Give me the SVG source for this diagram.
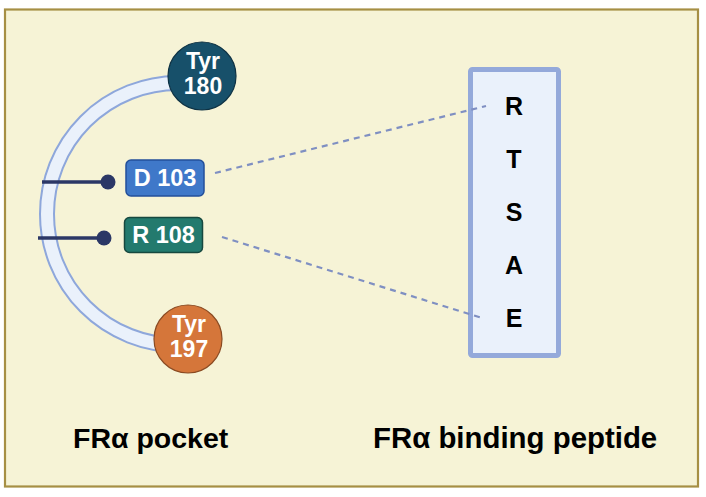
<svg xmlns="http://www.w3.org/2000/svg" width="706" height="497" viewBox="0 0 706 497">
<style>
  text { font-family: "Liberation Sans", Arial, sans-serif; font-weight: bold; }
  .wt { fill: #ffffff; text-anchor: middle; }
  .pep { fill: #000000; text-anchor: middle; font-size: 25px; }
  .lbl { fill: #000000; }
  .dash { stroke: #7f8fc2; stroke-width: 2.2; stroke-dasharray: 6 5; fill: none; }
  .pin { stroke: #2b3766; stroke-width: 3.5; }
  .pindot { fill: #2b3766; }
</style>
<rect x="0" y="0" width="706" height="497" fill="#ffffff"/>
<rect id="frame" x="5" y="9.5" width="693" height="477" fill="#f6f3d6" stroke="#a68f44" stroke-width="2.2"/>

<g id="pocket-arc">
  <path d="M178 83 A131 131 0 0 0 178 345" fill="none" stroke="#8ea7db" stroke-width="16"/>
  <path d="M178 83 A131 131 0 0 0 178 345" fill="none" stroke="#eaf1fb" stroke-width="12"/>
</g>

<g id="tyr180">
  <circle cx="202" cy="76" r="34" fill="#17506a" stroke="#0e3244" stroke-width="1.2"/>
  <text class="wt" x="203" y="69" font-size="23">Tyr</text>
  <text class="wt" x="203" y="94" font-size="23">180</text>
</g>

<g id="tyr197">
  <circle cx="188" cy="339" r="34" fill="#d5763a" stroke="#8a4a22" stroke-width="1.2"/>
  <text class="wt" x="189" y="332" font-size="23">Tyr</text>
  <text class="wt" x="189" y="357" font-size="23">197</text>
</g>

<g id="d103">
  <rect x="126" y="160" width="78" height="36" rx="5" fill="#3f78c9" stroke="#234f9a" stroke-width="1.5"/>
  <text class="wt" x="165" y="186" font-size="23.5">D 103</text>
</g>

<g id="r108">
  <rect x="124.5" y="217.5" width="78" height="35" rx="5" fill="#237a6e" stroke="#17483f" stroke-width="1.5"/>
  <text class="wt" x="163.5" y="243" font-size="23.5">R 108</text>
</g>

<g id="peptide">
  <rect x="470.5" y="69.5" width="88" height="286" rx="2" fill="#eaf1fb" stroke="#94a9da" stroke-width="5"/>
  <text class="pep" x="514" y="115">R</text>
  <text class="pep" x="514" y="168">T</text>
  <text class="pep" x="514" y="221">S</text>
  <text class="pep" x="514" y="274">A</text>
  <text class="pep" x="514" y="327">E</text>
</g>

<g id="labels">
  <text class="lbl" x="73" y="448" font-size="28.5">FRα pocket</text>
  <text class="lbl" x="373" y="448" font-size="29.4">FRα binding peptide</text>
</g>

<g id="connectors">
  <line class="dash" x1="215" y1="173" x2="486" y2="106"/>
  <line class="dash" x1="222" y1="237" x2="482" y2="318"/>
  <line class="pin" x1="42" y1="182" x2="108" y2="182"/>
  <circle class="pindot" cx="108" cy="182" r="7.5"/>
  <line class="pin" x1="38" y1="238" x2="104" y2="238"/>
  <circle class="pindot" cx="104" cy="238" r="7.5"/>
</g>
</svg>
